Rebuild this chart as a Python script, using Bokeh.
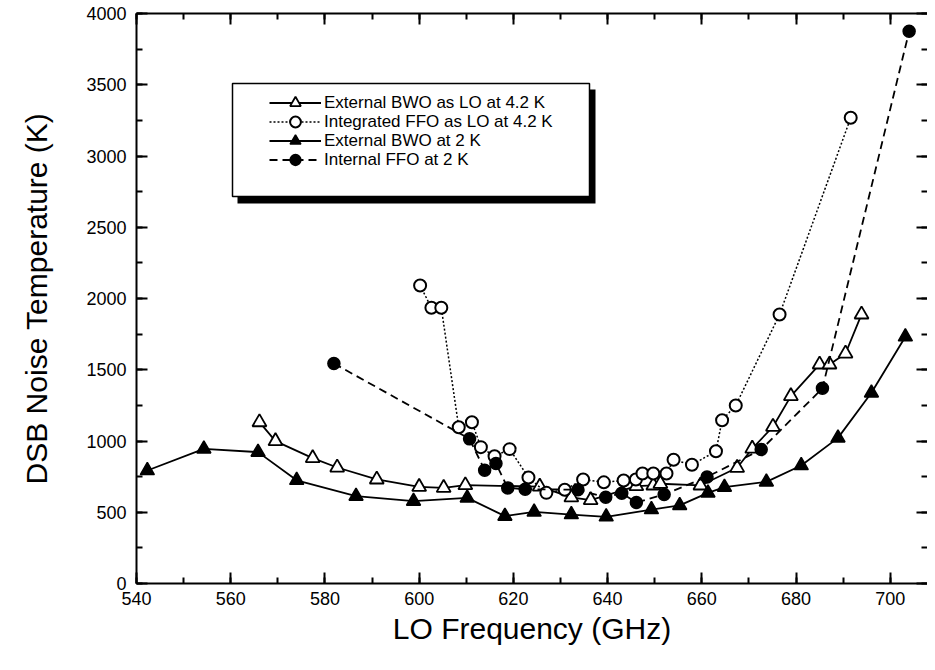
from bokeh.plotting import figure
from bokeh.models import (Range1d, LinearAxis, SingleIntervalTicker, Legend, LegendItem,
                          BoxAnnotation, CustomJSTickFormatter)
from bokeh.embed import file_html
from bokeh.resources import INLINE

# ---- data ----
bwo42_f = [566.1, 569.5, 577.4, 582.6, 591.0, 600.0, 605.2, 609.8, 625.6, 632.3, 636.4,
           646.1, 649.7, 651.2, 659.7, 667.5, 670.7, 675.1, 678.9, 685.0, 687.1, 690.5, 693.9]
bwo42_t = [1132, 999, 880, 814, 730, 678, 671, 690, 680, 605, 585,
           683, 688, 700, 688, 812, 947, 1100, 1315, 1537, 1537, 1614, 1888]

ffo42_f = [600.2, 602.6, 604.7, 608.4, 611.2, 613.1, 616.0, 619.2, 623.2, 627.0, 630.9,
           634.8, 639.2, 643.4, 646.0, 647.4, 649.7, 652.5, 654.0, 657.9, 663.0, 664.3,
           667.2, 676.5, 691.6]
ffo42_t = [2091, 1935, 1935, 1097, 1132, 957, 893, 943, 744, 636, 658,
           730, 710, 723, 730, 772, 772, 772, 868, 833, 928, 1146,
           1249, 1888, 3268]

bwo2_f = [542.3, 554.3, 565.8, 574.0, 586.6, 598.8, 610.2, 618.2, 624.4, 632.3, 639.7,
          649.3, 655.3, 661.3, 664.8, 673.7, 681.1, 688.9, 696.0, 703.2]
bwo2_t = [793, 945, 922, 724, 613, 578, 601, 473, 502, 484, 468,
          519, 548, 636, 676, 713, 828, 1022, 1338, 1731]

ffo2_f = [581.9, 610.7, 613.9, 616.3, 618.8, 622.5, 633.7, 639.6, 643.0, 646.1, 652.0,
          661.1, 672.6, 685.6, 704.0]
ffo2_t = [1544, 1015, 795, 842, 671, 662, 658, 605, 634, 568, 625,
          748, 940, 1370, 3875]

labels = ["External BWO as LO at 4.2 K", "Integrated FFO as LO at 4.2 K",
          "External BWO at 2 K", "Internal FFO at 2 K"]

FONT = "Liberation Sans"

p = figure(width=927, height=656, output_backend="svg", toolbar_location=None,
           x_range=Range1d(540, 707.9), y_range=Range1d(0, 4000),
           min_border_left=136, min_border_right=0, min_border_top=13, min_border_bottom=73,
           background_fill_color="white", border_fill_color="white")
p.outline_line_color = None
p.xgrid.visible = False
p.ygrid.visible = False

xt = SingleIntervalTicker(interval=20, num_minor_ticks=2)
yt = SingleIntervalTicker(interval=500, num_minor_ticks=2)


def style_axis(ax, ticker):
    ax.ticker = ticker
    ax.axis_line_width = 2
    ax.axis_line_color = "black"
    ax.major_tick_in = 11
    ax.major_tick_out = 0
    ax.minor_tick_in = 6
    ax.minor_tick_out = 0
    ax.major_tick_line_width = 2
    ax.minor_tick_line_width = 2
    ax.major_tick_line_color = "black"
    ax.minor_tick_line_color = "black"
    ax.major_label_text_font = FONT
    ax.major_label_text_font_size = "18px"
    ax.major_label_text_color = "black"
    ax.axis_label_text_font = FONT
    ax.axis_label_text_font_size = "30px"
    ax.axis_label_text_font_style = "normal"
    ax.axis_label_text_color = "black"


style_axis(p.xaxis[0], xt)
style_axis(p.yaxis[0], yt)
p.xaxis[0].axis_label = "LO Frequency (GHz)"
p.yaxis[0].axis_label = "DSB Noise Temperature (K)"
p.xaxis[0].major_label_standoff = 8
p.xaxis[0].axis_label_standoff = 4
p.yaxis[0].major_label_standoff = 10
p.yaxis[0].axis_label_standoff = 30

blank = CustomJSTickFormatter(code="return ''")
top = LinearAxis()
style_axis(top, SingleIntervalTicker(interval=20, num_minor_ticks=2))
top.formatter = blank
top.major_label_standoff = 0
p.add_layout(top, "above")
right = LinearAxis()
style_axis(right, SingleIntervalTicker(interval=500, num_minor_ticks=2))
right.formatter = blank
right.major_label_standoff = 0
right.axis_line_color = None
p.add_layout(right, "right")

# ---- series ----
l1 = p.line(bwo42_f, bwo42_t, line_color="black", line_width=1.8)
m1 = p.scatter(bwo42_f, bwo42_t, marker="triangle", size=14, fill_color="white",
               line_color="black", line_width=1.8)
l2 = p.line(ffo42_f, ffo42_t, line_color="black", line_width=1.5, line_dash="2 2")
m2 = p.scatter(ffo42_f, ffo42_t, marker="circle", size=12, fill_color="white",
               line_color="black", line_width=2)
l3 = p.line(bwo2_f, bwo2_t, line_color="black", line_width=1.8)
m3 = p.scatter(bwo2_f, bwo2_t, marker="triangle", size=14, fill_color="black",
               line_color="black", line_width=1.5)
l4 = p.line(ffo2_f, ffo2_t, line_color="black", line_width=1.8, line_dash="8 5")
m4 = p.scatter(ffo2_f, ffo2_t, marker="circle", size=12, fill_color="black",
               line_color="black", line_width=1.5)

# ---- legend with shadowed box ----
shadow = BoxAnnotation(left=237, right=595, top=89, bottom=203,
                       left_units="canvas", right_units="canvas",
                       top_units="canvas", bottom_units="canvas",
                       fill_color="black", fill_alpha=1, line_color=None)
box = BoxAnnotation(left=232, right=589, top=83, bottom=196,
                    left_units="canvas", right_units="canvas",
                    top_units="canvas", bottom_units="canvas",
                    fill_color="white", fill_alpha=1, line_color="black",
                    line_alpha=1, line_width=1.5)
p.add_layout(shadow)
p.add_layout(box)

# one single-row legend per entry so the legend markers can be large
entries = [(labels[0], [l1, m1]), (labels[1], [l2, m2]),
           (labels[2], [l3, m3]), (labels[3], [l4, m4])]
row_y = [467, 448, 429, 410]
for (lab, rends), yy in zip(entries, row_y):
    lg = Legend(items=[LegendItem(label=lab, renderers=rends)],
                location=(133, yy), padding=0, margin=0, spacing=0,
                glyph_width=52, glyph_height=27, label_height=27, label_standoff=3,
                label_text_font=FONT, label_text_font_size="17px",
                label_text_color="black",
                background_fill_alpha=0, border_line_color=None)
    p.add_layout(lg)

open("out.html", "w").write(file_html(p, INLINE))
